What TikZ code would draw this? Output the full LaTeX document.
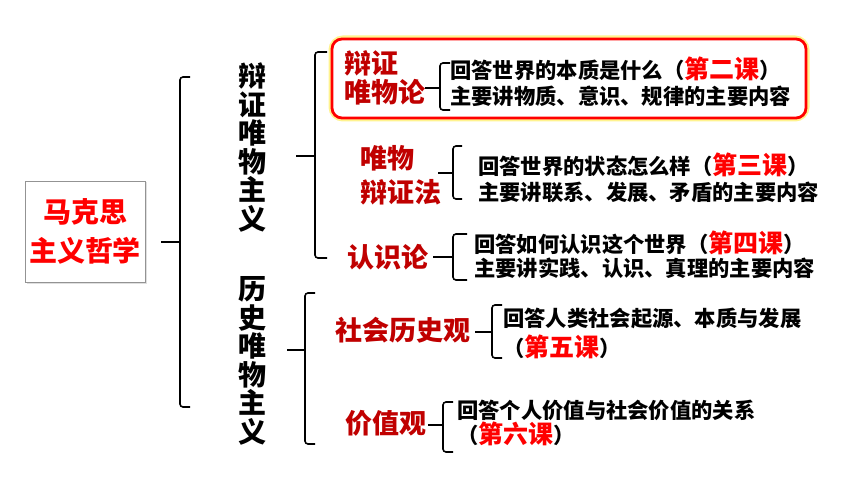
\documentclass[tikz,border=0pt]{standalone}
\usepackage{fontspec}
\setmainfont{Noto Sans CJK SC}
\definecolor{darkred}{HTML}{C00000}
\definecolor{brightred}{HTML}{FF0000}
\definecolor{glowy}{HTML}{FFF06A}
\tikzset{
  brk/.style={line width=1.6pt, rounded corners=3pt, black},
  titletext/.style={font=\bfseries\fontsize{28}{39}\selectfont, text=brightred, align=center},
  vtext/.style={font=\bfseries\fontsize{28}{28.5}\selectfont, align=center, inner sep=0pt},
  subhead/.style={font=\bfseries\fontsize{27}{30}\selectfont, text=darkred, align=left, inner sep=0pt, anchor=west},
  body/.style={font=\bfseries\fontsize{21.3}{24}\selectfont, inner sep=0pt, anchor=west},
}
\newcommand\lessonlbl[1]{{\color{brightred}\fontsize{25}{25}\selectfont #1}}
% name, xtick, xline, xhook, ytop, ymid, ybot
\newcommand\mybrace[7]{%
  \coordinate (#1top) at (#4,#5);
  \coordinate (#1bot) at (#4,#7);
  \coordinate (#1tip) at (#2,#6);
  \coordinate (#1mid) at (#3,#6);
  \draw[brk] (#1top) -- (#3,#5) -- (#3,#7) -- (#1bot);
  \draw[brk] (#1tip) -- (#1mid);
}
\begin{document}
\begin{tikzpicture}[x=1pt,y=-1pt]
\useasboundingbox (0,0) rectangle (860,484);
\fill[white] (0,0) rectangle (860,484);

% title box
\fill[gray!25] (26.5,182.5) rectangle (146.5,283.5);
\node[titletext, draw=gray!85, line width=0.9pt, fill=white, minimum width=120pt, minimum height=101pt, inner sep=0pt] (root) at (85,231.5) {马克思\\主义哲学};

% highlighted box
\draw[glowy, line width=7pt, opacity=0.75, rounded corners=11pt] (332,39) rectangle (806,118);
\draw[brightred, line width=2.8pt, fill=white, rounded corners=10pt] (332,39) rectangle (806,118);

% braces
\mybrace{b0}{161}{180}{190}{77}{242}{407}
\mybrace{b1}{296}{315}{327}{52}{156}{258}
\mybrace{b2}{287}{305}{315}{293}{350}{444}
\mybrace{c1}{425}{440}{450}{63}{88}{110}
\mybrace{c2}{438}{453}{462}{146}{173}{199}
\mybrace{c3}{433}{453}{467}{234}{257}{280}
\mybrace{c4}{475}{492}{502}{305}{332}{358}
\mybrace{c5}{428}{443}{453}{402}{425}{452}

% vertical texts
\node[vtext] (dm) at (252,147.5) {辩\\证\\唯\\物\\主\\义};
\node[vtext] (hm) at (252,361) {历\\史\\唯\\物\\主\\义};

% sub headings
\node[subhead, font=\bfseries\fontsize{27}{29.5}\selectfont] (s1) at (344,78) {辩证\\唯物论};
\node[subhead, font=\bfseries\fontsize{27}{34}\selectfont] (s2) at (360,175) {唯物\\辩证法};
\node[subhead] (s3) at (347,257) {认识论};
\node[subhead] (s4) at (335,330) {社会历史观};
\node[subhead] (s5) at (345,423) {价值观};

% body texts
\node[body] (t1a) at (450,69) {回答世界的本质是什么（\lessonlbl{第二课}）};
\node[body] (t1b) at (450,96) {主要讲物质、意识、规律的主要内容};
\node[body] (t2a) at (478,165) {回答世界的状态怎么样（\lessonlbl{第三课}）};
\node[body] (t2b) at (478,192) {主要讲联系、发展、矛盾的主要内容};
\node[body] (t3a) at (474,243) {回答如何认识这个世界（\lessonlbl{第四课}）};
\node[body] (t3b) at (474,268) {主要讲实践、认识、真理的主要内容};
\node[body] (t4a) at (503,318) {回答人类社会起源、本质与发展};
\node[body] (t4b) at (503,347) {（\lessonlbl{第五课}）};
\node[body] (t5a) at (457,410) {回答个人价值与社会价值的关系};
\node[body] (t5b) at (457,434) {（\lessonlbl{第六课}）};
\end{tikzpicture}
\end{document}
